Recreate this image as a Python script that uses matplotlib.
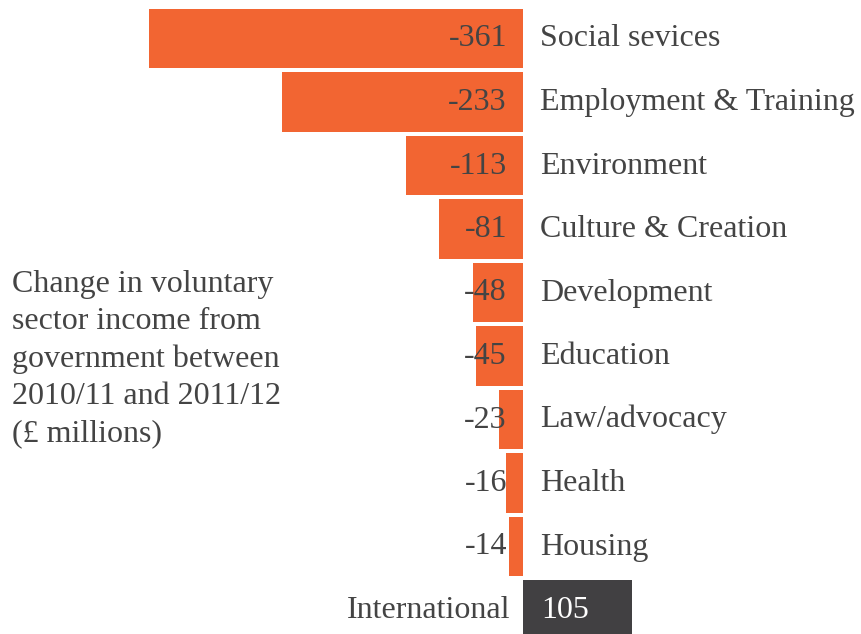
import matplotlib
matplotlib.use("Agg")
import matplotlib.pyplot as plt

# Change in voluntary sector income from government, 2010/11 -> 2011/12 (GBP millions)
categories = ["Social sevices", "Employment & Training", "Environment",
              "Culture & Creation", "Development", "Education", "Law/advocacy",
              "Health", "Housing", "International"]
values = [-361, -233, -113, -81, -48, -45, -23, -16, -14, 105]

ORANGE = "#F26532"
DARK = "#414042"
TEXT = "#444444"

plt.rcParams["font.family"] = ["Liberation Serif", "DejaVu Serif"]

W, H = 862, 634
fig = plt.figure(figsize=(W / 100, H / 100), dpi=100)
ax = fig.add_axes([0, 0, 1, 1])
ax.axis("off")

# pixel mapping: zero line at x=523px, ~1.035 px per unit; rows 63.5px apart
x0, sx = 523, 1.035
y0, sy = 38.5, 63.5
ax.set_xlim(-x0 / sx, (W - x0) / sx)
ax.set_ylim((H - y0) / sy, -y0 / sy)

fs = 23
dy = -8
for i, (cat, v) in enumerate(zip(categories, values)):
    color = ORANGE if v < 0 else DARK
    ax.barh(i, v, height=0.93, color=color, linewidth=0)
    if v < 0:
        ax.annotate(str(v), (0, i), xytext=(-16, dy), textcoords="offset pixels",
                    ha="right", va="baseline", fontsize=fs, color=TEXT)
        ax.annotate(cat, (0, i), xytext=(17, dy), textcoords="offset pixels",
                    ha="left", va="baseline", fontsize=fs, color=TEXT)
    else:
        ax.annotate(str(v), (0, i), xytext=(18, dy), textcoords="offset pixels",
                    ha="left", va="baseline", fontsize=fs, color="white")
        ax.annotate(cat, (0, i), xytext=(-13, dy), textcoords="offset pixels",
                    ha="right", va="baseline", fontsize=fs, color=TEXT)

fig.text(12 / W, 1 - 270 / H,
         "Change in voluntary\nsector income from\ngovernment between\n2010/11 and 2011/12\n(\u00a3 millions)",
         ha="left", va="top", fontsize=fs, color=TEXT, linespacing=1.37)

fig.savefig("out.png", dpi=100)
